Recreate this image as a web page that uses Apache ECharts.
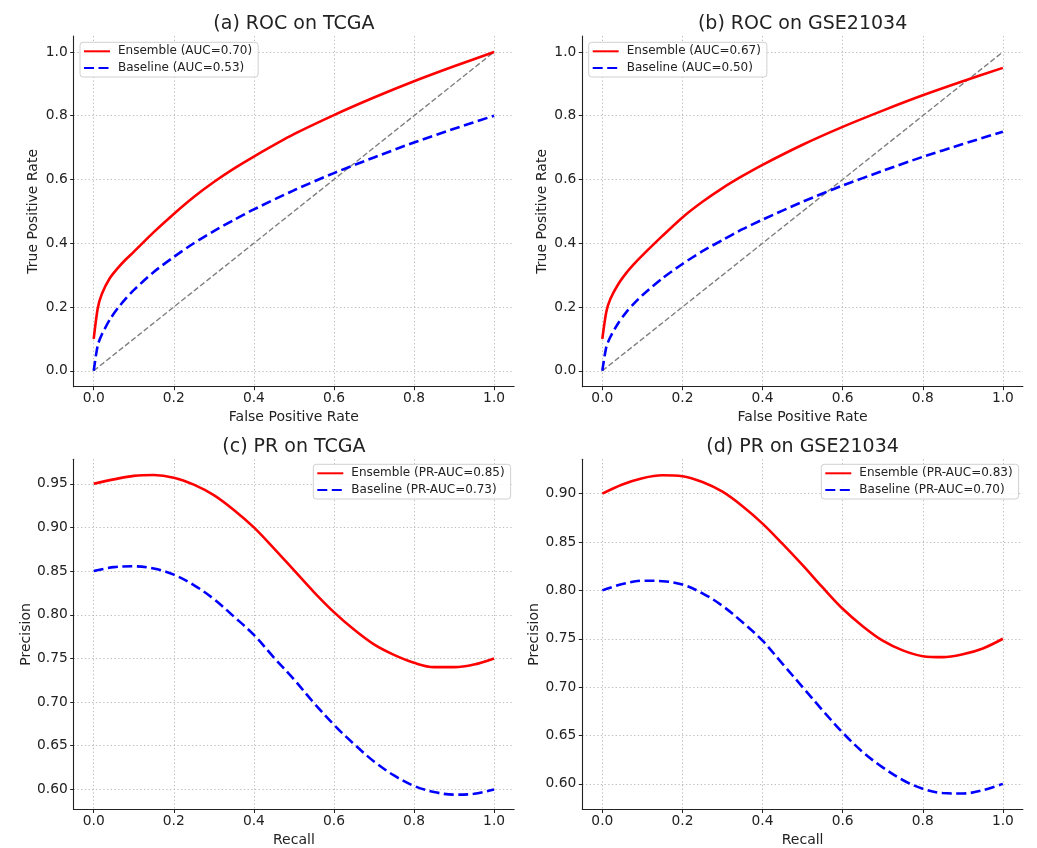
<!DOCTYPE html>
<html><head><meta charset="utf-8">
<script src="https://cdn.jsdelivr.net/npm/echarts@6/dist/echarts.min.js"></script>
<style>html,body{margin:0;padding:0;background:#fff}#c{width:1037px;height:848px}</style>
</head><body><div id="c"></div>
<script>
// ---- data ----
const rocFpr = [0, 0.01, 0.02, 0.04, 0.06, 0.08, 0.1, 0.15, 0.2, 0.25, 0.3, 0.35, 0.4, 0.5, 0.6, 0.7, 0.8, 0.9, 1.0];
const rocTcgaEnsemble = [0.10, 0.195, 0.24, 0.29, 0.322, 0.349, 0.373, 0.435, 0.492, 0.545, 0.592, 0.634, 0.672, 0.742, 0.802, 0.857, 0.908, 0.955, 1.0];
const rocTcgaBaseline = [0.0, 0.08, 0.113, 0.16, 0.196, 0.226, 0.253, 0.31, 0.357, 0.40, 0.438, 0.473, 0.506, 0.566, 0.62, 0.669, 0.716, 0.759, 0.80];
const rocGseEnsemble = [0.10, 0.185, 0.225, 0.272, 0.307, 0.336, 0.362, 0.423, 0.481, 0.53, 0.573, 0.611, 0.646, 0.709, 0.765, 0.816, 0.864, 0.908, 0.95];
const rocGseBaseline = [0.0, 0.075, 0.106, 0.15, 0.184, 0.212, 0.237, 0.29, 0.335, 0.375, 0.41, 0.444, 0.474, 0.53, 0.581, 0.627, 0.671, 0.711, 0.75];
const chanceX = [0, 1];
const chanceY = [0, 1];

const prRecall = [0, 0.05, 0.1, 0.15, 0.2, 0.25, 0.3, 0.35, 0.4, 0.45, 0.5, 0.55, 0.6, 0.65, 0.7, 0.75, 0.8, 0.85, 0.9, 0.95, 1.0];
const prTcgaEnsemble = [0.950, 0.955, 0.959, 0.960, 0.957, 0.949, 0.937, 0.920, 0.900, 0.876, 0.851, 0.826, 0.803, 0.783, 0.766, 0.754, 0.745, 0.740, 0.740, 0.743, 0.750];
const prTcgaBaseline = [0.850, 0.8545, 0.8555, 0.853, 0.846, 0.834, 0.818, 0.798, 0.777, 0.751, 0.726, 0.699, 0.674, 0.652, 0.632, 0.616, 0.604, 0.597, 0.594, 0.595, 0.600];
const prGseEnsemble = [0.900, 0.9095, 0.916, 0.919, 0.918, 0.912, 0.902, 0.887, 0.869, 0.848, 0.826, 0.803, 0.781, 0.763, 0.748, 0.738, 0.732, 0.731, 0.734, 0.740, 0.750];
const prGseBaseline = [0.800, 0.8065, 0.810, 0.8095, 0.806, 0.797, 0.784, 0.767, 0.748, 0.724, 0.700, 0.676, 0.653, 0.633, 0.617, 0.604, 0.595, 0.5905, 0.590, 0.5935, 0.600];

const unitTicks = [0, 0.2, 0.4, 0.6, 0.8, 1.0];
const prTcgaTicks = [0.60, 0.65, 0.70, 0.75, 0.80, 0.85, 0.90, 0.95];
const prGseTicks = [0.60, 0.65, 0.70, 0.75, 0.80, 0.85, 0.90];

const titles = ['(a) ROC on TCGA', '(b) ROC on GSE21034', '(c) PR on TCGA', '(d) PR on GSE21034'];
const legendNames = [
  ['Ensemble (AUC=0.70)', 'Baseline (AUC=0.53)'],
  ['Ensemble (AUC=0.67)', 'Baseline (AUC=0.50)'],
  ['Ensemble (PR-AUC=0.85)', 'Baseline (PR-AUC=0.73)'],
  ['Ensemble (PR-AUC=0.83)', 'Baseline (PR-AUC=0.70)']
];

// ---- styling / layout ----
const FONT = 'DejaVu Sans';
const INK = '#222';
const grids = [
  {left: 73.7, top: 36, width: 440.4, height: 350.7},
  {left: 582.3, top: 36, width: 440.6, height: 350.7},
  {left: 73.7, top: 459.3, width: 440.4, height: 350.2},
  {left: 582.3, top: 459.3, width: 440.6, height: 350.2}
];
const yRanges = [[-0.05, 1.05], [-0.05, 1.05], [0.577, 0.978], [0.5735, 0.9355]];
const yTicks = [unitTicks, unitTicks, prTcgaTicks, prGseTicks];
const yDigits = [1, 1, 2, 2];
const xNames = ['False Positive Rate', 'False Positive Rate', 'Recall', 'Recall'];
const yNames = ['True Positive Rate', 'True Positive Rate', 'Precision', 'Precision'];
const yNameGaps = [33, 33, 40.5, 41];
const titlePos = [[293.9, 14.5], [802.6, 14.5], [293.9, 437.5], [802.6, 437.5]];
const legendPos = [[80, 42.3], [588.7, 42.3], [313.3, 464.3], [821.3, 464.3]];

const splitLine = {show: true, lineStyle: {color: '#bdbdbd', width: 1, type: [1.3, 2.4]}};

const xAxes = grids.map((g, i) => ({
  type: 'value', gridIndex: i, min: -0.05, max: 1.05,
  name: xNames[i], nameLocation: 'middle', nameGap: 24,
  nameTextStyle: {fontSize: 14, color: INK, fontFamily: FONT},
  axisLine: {show: true, onZero: false, lineStyle: {color: INK, width: 1.1}},
  axisTick: {show: true, inside: false, length: 3.5, customValues: unitTicks, lineStyle: {color: INK, width: 1}},
  axisLabel: {customValues: unitTicks, formatter: v => v.toFixed(1), fontSize: 13.8, color: INK, fontFamily: FONT, margin: 5},
  splitLine: splitLine
}));
const yAxes = grids.map((g, i) => ({
  type: 'value', gridIndex: i, min: yRanges[i][0], max: yRanges[i][1],
  name: yNames[i], nameLocation: 'middle', nameGap: yNameGaps[i], nameRotate: 90,
  nameTextStyle: {fontSize: 14, color: INK, fontFamily: FONT},
  axisLine: {show: true, onZero: false, lineStyle: {color: INK, width: 1.1}},
  axisTick: {show: true, inside: false, length: 3.5, customValues: yTicks[i], lineStyle: {color: INK, width: 1}},
  axisLabel: {customValues: yTicks[i], formatter: v => v.toFixed(yDigits[i]), fontSize: 13.8, color: INK, fontFamily: FONT, margin: 6},
  splitLine: splitLine
}));

function pairs(xs, ys) { return xs.map((x, k) => [x, ys[k]]); }
const redStyle = {color: '#ff0000', width: 2.6, type: 'solid'};
const blueStyle = {color: '#0000ff', width: 2.6, type: [10, 4.5]};

const curveSets = [
  [rocFpr, rocTcgaEnsemble, rocTcgaBaseline, true],
  [rocFpr, rocGseEnsemble, rocGseBaseline, true],
  [prRecall, prTcgaEnsemble, prTcgaBaseline, false],
  [prRecall, prGseEnsemble, prGseBaseline, false]
];
const series = [];
curveSets.forEach((cs, i) => {
  const sm = cs[3] ? 0.25 : 0.35;
  if (cs[3]) {
    series.push({
      name: 'chance-' + i, type: 'line', xAxisIndex: i, yAxisIndex: i,
      data: pairs(chanceX, chanceY), symbol: 'none', silent: true,
      lineStyle: {color: '#808080', width: 1.4, type: [5.5, 2.5]}, z: 2
    });
  }
  series.push({
    name: legendNames[i][0], type: 'line', xAxisIndex: i, yAxisIndex: i,
    data: pairs(cs[0], cs[1]), symbol: 'none', smooth: sm,
    lineStyle: redStyle, itemStyle: {color: '#ff0000'}, z: 3
  });
  series.push({
    name: legendNames[i][1], type: 'line', xAxisIndex: i, yAxisIndex: i,
    data: pairs(cs[0], cs[2]), symbol: 'none', smooth: sm,
    lineStyle: blueStyle, itemStyle: {color: '#0000ff'}, z: 3
  });
});

const option = {
  animation: false,
  backgroundColor: '#ffffff',
  textStyle: {fontFamily: FONT},
  title: titles.map((t, i) => ({
    text: t, left: titlePos[i][0], top: titlePos[i][1], textAlign: 'center', padding: 0,
    textStyle: {fontSize: 19, fontWeight: 'normal', color: INK, fontFamily: FONT}
  })),
  legend: legendNames.map((names, i) => ({
    data: names, orient: 'vertical', left: legendPos[i][0], top: legendPos[i][1],
    itemWidth: 26, itemHeight: 14, itemGap: 4.7, padding: [3, 6, 3, 3],
    backgroundColor: 'rgba(255,255,255,0.85)', borderColor: '#d0d0d0', borderWidth: 1, borderRadius: 3,
    selectedMode: false,
    itemStyle: {opacity: 0},
    textStyle: {fontSize: 12, color: INK, fontFamily: FONT, padding: [0, 0, 0, 3]}
  })),
  grid: grids.map(g => Object.assign({containLabel: false, outerBoundsMode: 'none'}, g)),
  xAxis: xAxes,
  yAxis: yAxes,
  series: series
};
const chart = echarts.init(document.getElementById('c'), null, {renderer: 'canvas'});
chart.setOption(option);
</script>
</body></html>
